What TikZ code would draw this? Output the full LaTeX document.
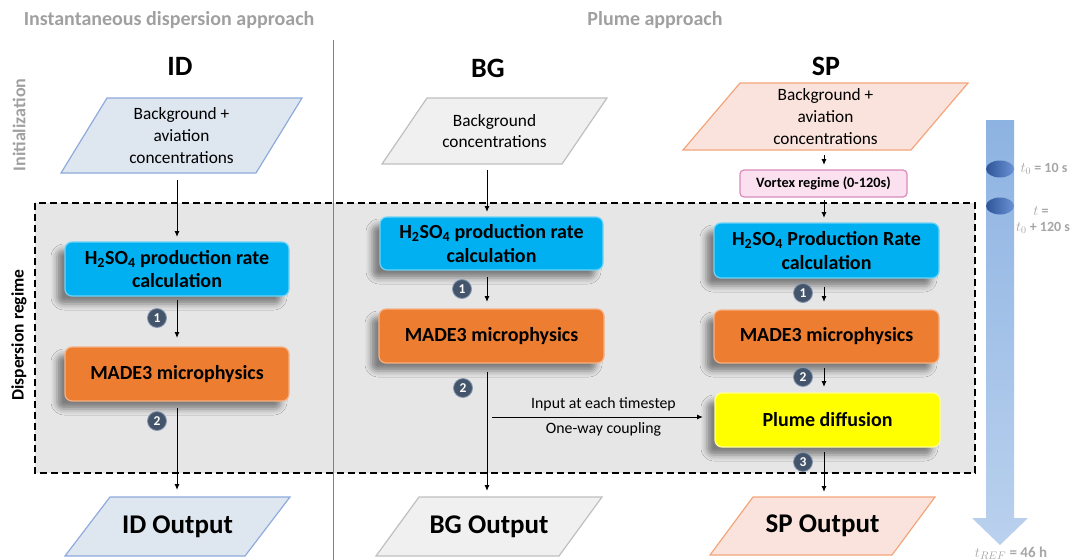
\documentclass[tikz,border=0pt]{standalone}
\usepackage{fontspec}
\setmainfont{Carlito}
\usetikzlibrary{arrows.meta,shadows.blur,calc}
\definecolor{titlegray}{HTML}{A0A0A0}
\definecolor{sepgray}{HTML}{808080}
\definecolor{areagray}{HTML}{E6E6E6}
\definecolor{idfill}{HTML}{DEE6F0}
\definecolor{iddraw}{HTML}{8FAADC}
\definecolor{bgfill}{HTML}{F0F0F0}
\definecolor{bgdraw}{HTML}{BFBFBF}
\definecolor{spfill}{HTML}{FAE3DC}
\definecolor{spdraw}{HTML}{F4A57A}
\definecolor{cyanc}{HTML}{00B0F0}
\definecolor{cyanl}{HTML}{6FD3F7}
\definecolor{orangec}{HTML}{ED7D31}
\definecolor{orangel}{HTML}{F5B183}
\definecolor{yellowc}{HTML}{FFFF00}
\definecolor{yellowl}{HTML}{FFFF99}
\definecolor{vortfill}{HTML}{FBE0EF}
\definecolor{vortdraw}{HTML}{D98BBE}
\definecolor{badgec}{HTML}{44546A}
\definecolor{badgel}{HTML}{8497B0}
\definecolor{arrtop}{HTML}{8DB3E2}
\definecolor{arrbot}{HTML}{BAD1EE}
\definecolor{elldark}{HTML}{2F5597}
\definecolor{elllight}{HTML}{6A92D6}
\definecolor{tgray}{HTML}{A6A6A6}
\newcommand\fs[2]{\fontsize{#1}{#2}\selectfont}
% #1 name, #2 cx, #3 cy, #4 total width, #5 height, #6 slant, #7 path style, #8 node options, #9 text
\newcommand\parabox[9]{%
  \path[#7] (#2-#4/2+#6, #3-#5/2) -- (#2+#4/2, #3-#5/2) -- (#2+#4/2-#6, #3+#5/2) -- (#2-#4/2, #3+#5/2) -- cycle;
  \node[minimum width=#4pt, minimum height=#5pt, align=center, #8] (#1) at (#2,#3) {#9};}
\begin{document}
\begin{tikzpicture}[x=1pt,y=-1pt,
  every node/.style={inner sep=0pt, outer sep=0pt},
  arr/.style={draw=black, line width=1pt, -{Latex[length=6pt,width=5pt]}},
  procbox/.style={rounded corners=7pt, minimum width=224pt, minimum height=54pt, align=center,
    font=\bfseries\fs{20}{23.5}, line width=1.2pt,
    blur shadow={shadow xshift=-8pt, shadow yshift=-8pt, shadow blur radius=6pt, shadow opacity=45}},
  cyanbox/.style={procbox, fill=cyanc, draw=cyanl},
  orangebox/.style={procbox, fill=orangec, draw=orangel},
  yellowbox/.style={procbox, fill=yellowc, draw=yellowl},
  badge/.style={circle, fill=badgec, draw=badgel, line width=0.8pt, minimum size=19pt,
    text=white, font=\bfseries\fs{13.5}{13.5}},
  headtxt/.style={font=\bfseries\fs{28}{30}},
  toptitle/.style={font=\bfseries\fs{20}{22}, text=titlegray},
  paratxt/.style={font=\fs{17.3}{21.7}},
  outtxt/.style={font=\bfseries\fs{27}{29}},
  idpara/.style={fill=idfill, draw=iddraw, line width=1.2pt},
  bgpara/.style={fill=bgfill, draw=bgdraw, line width=1.2pt},
  sppara/.style={fill=spfill, draw=spdraw, line width=1.2pt},
  tlab/.style={text=tgray, font=\bfseries\fs{14}{16}},
  lab/.style={font=\fs{15.8}{18}}
]
\useasboundingbox (0,0) rectangle (1072,560);

% dispersion regime area
\path[fill=areagray, draw=black, line width=1.3pt, dash pattern=on 7pt off 4pt] (35,203) rectangle (975,473);

% separator
\draw[sepgray, line width=1pt] (333,40) -- (333,560);

% titles
\node[toptitle] (t-id) at (169,20) {Instantaneous dispersion approach};
\node[toptitle] (t-pl) at (655,20) {Plume approach};
\node[headtxt] (h-id) at (180,66) {ID};
\node[headtxt] (h-bg) at (488,68) {BG};
\node[headtxt] (h-sp) at (826,66) {SP};
\node[rotate=90, text=titlegray, font=\bfseries\fs{18}{20}] (l-init) at (19,125) {Initialization};
\node[rotate=90, font=\bfseries\fs{17.5}{19}] (l-disp) at (19,335) {Dispersion regime};

% right time arrow
\path[top color=arrtop, bottom color=arrbot] (986,120) -- (1014,120) -- (1014,518) -- (1028,518) -- (1000,545) -- (972,518) -- (986,518) -- cycle;
\path[left color=elldark, right color=elllight] (1000,169) ellipse [x radius=14, y radius=8.5];
\path[left color=elldark, right color=elllight] (1000,206) ellipse [x radius=14, y radius=8.5];
\node[tlab] (tz) at (1044,169) {$t_0$ = 10 s};
\node[tlab] (ta) at (1041,211) {$t$ =};
\node[tlab] (tb) at (1043,228) {$t_0$ + 120 s};
\node[tlab, font=\bfseries\fs{15}{16}] (tr) at (1011,553) {$t_{REF}$ = 46 h};

% initialization parallelograms
\parabox{idin}{181.5}{135.5}{241}{75}{46}{idpara}{paratxt}{Background +\\aviation\\concentrations}
\parabox{bgin}{494.5}{131}{225}{66}{45}{bgpara}{paratxt}{Background\\concentrations}
\parabox{spin}{825.5}{116.5}{285}{67}{57}{sppara}{paratxt}{Background +\\aviation\\concentrations}

% vortex
\node[fill=vortfill, draw=vortdraw, line width=1.2pt, rounded corners=4pt, minimum width=167pt, minimum height=27pt,
  font=\bfseries\fs{14.3}{16}] (vort) at (823.5,183.5) {Vortex regime (0-120s)};

% process boxes
\node[cyanbox] (idh) at (177,269) {H\textsubscript{2}SO\textsubscript{4} production rate\\calculation};
\node[orangebox] (idm) at (177,374) {MADE3 microphysics};
\node[cyanbox, minimum width=223pt, minimum height=53pt] (bgh) at (491.5,243.5) {H\textsubscript{2}SO\textsubscript{4} production rate\\calculation};
\node[orangebox, minimum width=225pt] (bgm) at (491.5,336) {MADE3 microphysics};
\node[cyanbox, minimum width=225pt, minimum height=55pt] (sph) at (826.5,250.5) {H\textsubscript{2}SO\textsubscript{4} Production Rate\\calculation};
\node[orangebox, minimum width=225pt, minimum height=53pt] (spm) at (826.5,336.5) {MADE3 microphysics};
\node[yellowbox, minimum width=225pt] (plume) at (827.5,420) {Plume diffusion};

% outputs
\parabox{idout}{177.5}{526.5}{225}{59}{45}{idpara}{outtxt}{ID Output}
\parabox{bgout}{489}{526.5}{226}{59}{43}{bgpara}{outtxt}{BG Output}
\parabox{spout}{822.5}{526}{225}{58}{43}{sppara}{outtxt}{SP Output}

% badges
\node[badge] (b1id) at (157,318) {1};
\node[badge] (b2id) at (157,421) {2};
\node[badge] (b1bg) at (462,289) {1};
\node[badge] (b2bg) at (463,388) {2};
\node[badge] (b1sp) at (803,293) {1};
\node[badge] (b2sp) at (803,377) {2};
\node[badge] (b3sp) at (803,462) {3};

% connectors ID
\draw[arr, shorten <=7pt, shorten >=5pt] (idin.south -| idh.north) -- (idh.north);
\draw[arr, shorten <=4pt, shorten >=9pt] (idh.south) -- (idm.north);
\draw[arr, shorten <=7pt, shorten >=7pt] (idm.south) -- (idout.north -| idm.south);
% connectors BG
\coordinate (bgx) at (487,0);
\draw[arr, shorten <=6pt, shorten >=5pt] (bgin.south -| bgx) -- (bgh.north -| bgx);
\draw[arr, shorten <=7pt, shorten >=7pt] (bgh.south -| bgx) -- (bgm.north -| bgx);
\draw[arr, shorten <=9pt, shorten >=6pt] (bgm.south -| bgx) -- (bgout.north -| bgx);
\coordinate (hs) at (492,417);
\draw[arr, shorten >=12pt] (hs) -- (hs -| plume.west)
  node[midway, above=6pt, lab] (inlab) {Input at each timestep}
  node[midway, below=6pt, lab] (owlab) {One-way coupling};
% connectors SP
\coordinate (spx) at (824,0);
\draw[arr, shorten <=5pt, shorten >=5pt] (spin.south -| spx) -- (vort.north -| spx);
\draw[arr, shorten <=3pt, shorten >=5pt] (vort.south -| spx) -- (sph.north -| spx);
\draw[arr, shorten <=9pt, shorten >=8pt] (sph.south -| spx) -- (spm.north -| spx);
\draw[arr, shorten <=5pt, shorten >=6pt] (spm.south -| spx) -- (plume.north -| spx);
\draw[arr, shorten <=5pt, shorten >=5pt] (plume.south -| spx) -- (spout.north -| spx);
\end{tikzpicture}
\end{document}
